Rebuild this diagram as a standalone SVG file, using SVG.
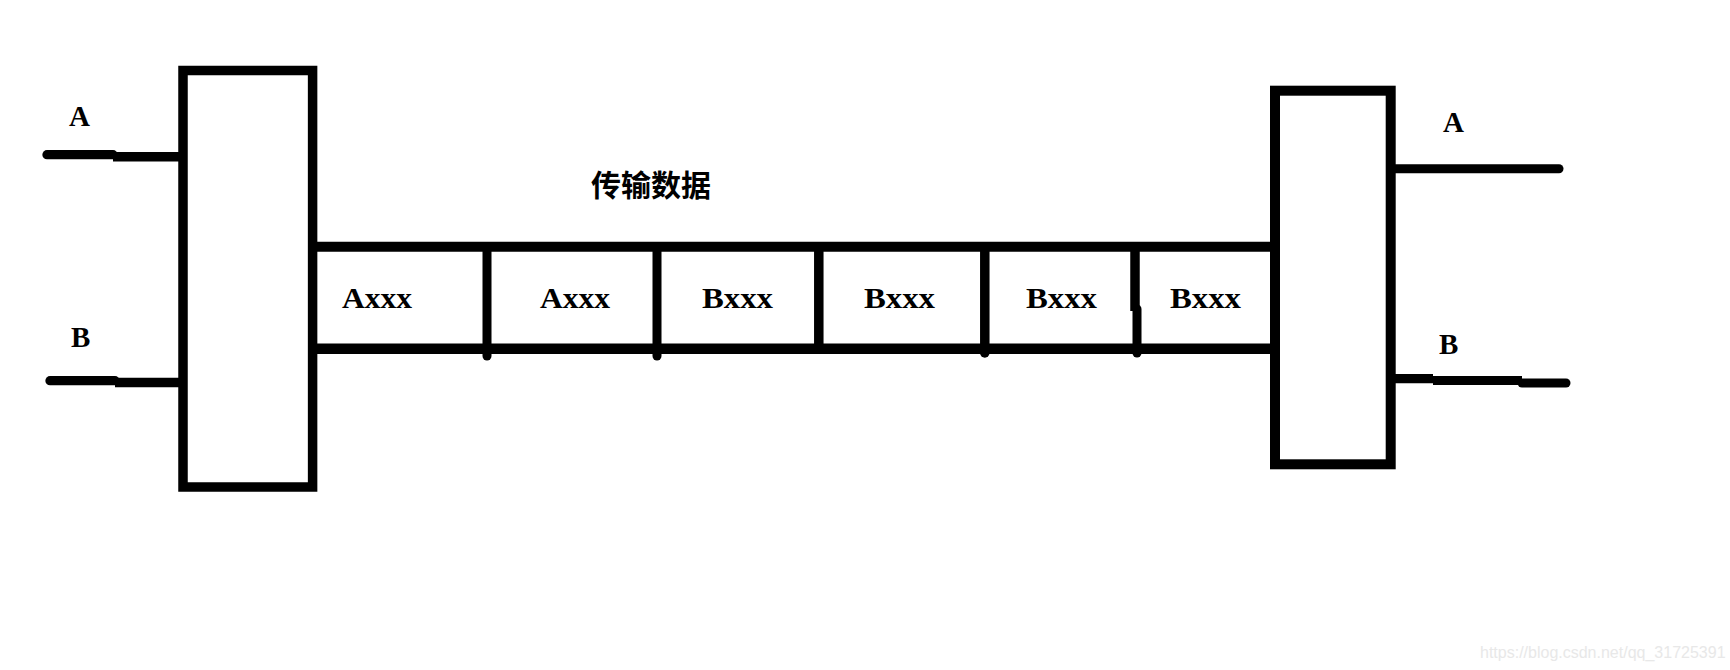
<svg xmlns="http://www.w3.org/2000/svg" width="1730" height="670" viewBox="0 0 1730 670">
  <style>
    .box { fill: none; stroke: #000; }
    .ln { stroke: #000; fill: none; }
    .lbl { font-family: "Liberation Serif", "Times New Roman", serif; font-weight: bold; font-size: 29px; fill: #000; }
    .title { font-family: "Liberation Sans", "Noto Sans CJK SC", sans-serif; font-weight: bold; font-size: 30px; fill: #000; }
    .wm { font-family: "Liberation Sans", Arial, sans-serif; font-size: 16px; fill: #e8e8e8; }
  </style>
  <rect width="1730" height="670" fill="#fff"/>

  <g id="left-box">
    <rect class="box" x="183" y="70.5" width="129.6" height="416.5" stroke-width="9.5"/>
  </g>

  <g id="right-box">
    <rect class="box" x="1275" y="90.7" width="115.7" height="373.6" stroke-width="10"/>
  </g>

  <g id="connectors">
    <!-- left inputs -->
    <line class="ln" x1="47" y1="154.7" x2="113" y2="154.7" stroke-width="9.3" stroke-linecap="round"/>
    <line class="ln" x1="113" y1="156.7" x2="179" y2="156.7" stroke-width="9.5"/>
    <line class="ln" x1="50" y1="380.7" x2="115" y2="380.7" stroke-width="9.3" stroke-linecap="round"/>
    <line class="ln" x1="115" y1="382.5" x2="179" y2="382.5" stroke-width="9.5"/>
    <!-- right outputs -->
    <line class="ln" x1="1395" y1="168.8" x2="1559" y2="168.8" stroke-width="9" stroke-linecap="round"/>
    <line class="ln" x1="1395" y1="378.7" x2="1433" y2="378.7" stroke-width="9.3"/>
    <line class="ln" x1="1433" y1="380.5" x2="1522" y2="380.5" stroke-width="9"/>
    <line class="ln" x1="1522" y1="383" x2="1566" y2="383" stroke-width="9" stroke-linecap="round"/>
    <!-- bus -->
    <line class="ln" x1="313" y1="246.7" x2="1275" y2="246.7" stroke-width="10"/>
    <line class="ln" x1="313" y1="348.7" x2="1275" y2="348.7" stroke-width="10.5"/>
    <!-- dividers -->
    <line class="ln" x1="487" y1="247" x2="487" y2="356" stroke-width="9" stroke-linecap="round"/>
    <line class="ln" x1="657" y1="247" x2="657" y2="356" stroke-width="9" stroke-linecap="round"/>
    <line class="ln" x1="818.8" y1="247" x2="818.8" y2="349" stroke-width="9.5"/>
    <line class="ln" x1="984.8" y1="247" x2="984.8" y2="353" stroke-width="9.5" stroke-linecap="round"/>
    <line class="ln" x1="1135" y1="247" x2="1135" y2="311" stroke-width="9.5"/>
    <line class="ln" x1="1137" y1="309" x2="1137" y2="353" stroke-width="9" stroke-linecap="round"/>
  </g>

  <g id="labels">
    <text class="lbl" x="69" y="126">A</text>
    <text class="lbl" x="71" y="347">B</text>
    <text class="lbl" x="1443" y="131.7">A</text>
    <text class="lbl" x="1439" y="354">B</text>
    <text class="title" x="591" y="196">传输数据</text>
  </g>

  <g id="cells">
    <text class="lbl" x="342" y="307.7" textLength="70" lengthAdjust="spacingAndGlyphs">Axxx</text>
    <text class="lbl" x="540" y="307.7" textLength="70" lengthAdjust="spacingAndGlyphs">Axxx</text>
    <text class="lbl" x="702" y="307.7" textLength="71" lengthAdjust="spacingAndGlyphs">Bxxx</text>
    <text class="lbl" x="864" y="307.7" textLength="71" lengthAdjust="spacingAndGlyphs">Bxxx</text>
    <text class="lbl" x="1026" y="307.7" textLength="71" lengthAdjust="spacingAndGlyphs">Bxxx</text>
    <text class="lbl" x="1170" y="307.7" textLength="71" lengthAdjust="spacingAndGlyphs">Bxxx</text>
  </g>

  <text class="wm" x="1480" y="658">https://blog.csdn.net/qq_31725391</text>
</svg>
